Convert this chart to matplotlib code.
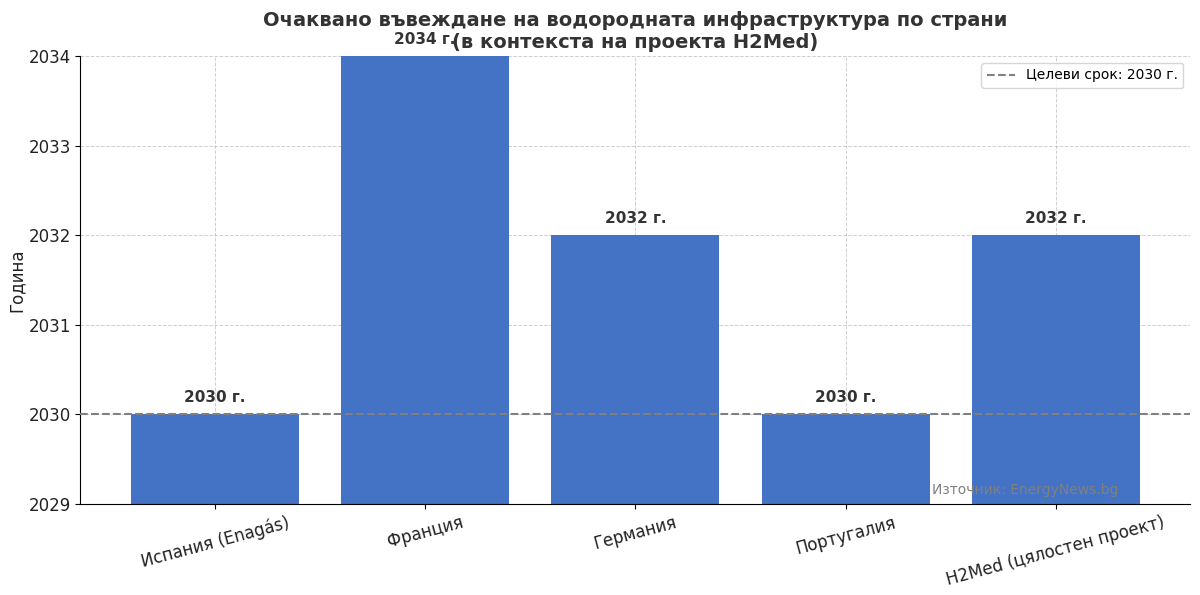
import matplotlib.pyplot as plt

countries = ['Испания (Enagás)', 'Франция', 'Германия', 'Португалия', 'H2Med (цялостен проект)']
years = [2030, 2034, 2032, 2030, 2032]
target_year = 2030
base_year = 2029

plt.rcParams['font.family'] = ['DejaVu Sans']
fig, ax = plt.subplots(figsize=(12, 5.95), dpi=100)

x = range(len(countries))
ax.bar(x, [y - base_year for y in years], bottom=base_year, width=0.8, color='#4472C4', zorder=2)
ax.axhline(target_year, color='gray', linestyle='--', linewidth=1.5, label='Целеви срок: 2030 г.', zorder=3)

for i, y in enumerate(years):
    ax.text(i, y + 0.1, f'{y} г.', ha='center', va='bottom', fontsize=11, fontweight='bold', color='#333333')

ax.set_ylim(base_year, 2034)
ax.set_xticks(list(x))
ax.set_xticklabels(countries, rotation=15, fontsize=12, color='#222222')
ax.tick_params(axis='y', labelsize=12, labelcolor='#222222')
ax.set_ylabel('Година', fontsize=12, color='#222222', labelpad=2)
ax.set_title('Очаквано въвеждане на водородната инфраструктура по страни\n(в контекста на проекта H2Med)',
             fontsize=14, fontweight='bold', color='#333333')
ax.grid(True, linestyle='--', linewidth=0.7, alpha=0.6, zorder=0)
ax.spines['top'].set_visible(False)
ax.spines['right'].set_visible(False)
ax.legend(loc='upper right', fontsize=10)
ax.text(0.935, 0.015, 'Източник: EnergyNews.bg', transform=ax.transAxes, ha='right', va='bottom',
        fontsize=10, color='gray')

fig.subplots_adjust(left=0.067, right=0.992, top=0.906, bottom=0.153)
fig.savefig('out.png')
